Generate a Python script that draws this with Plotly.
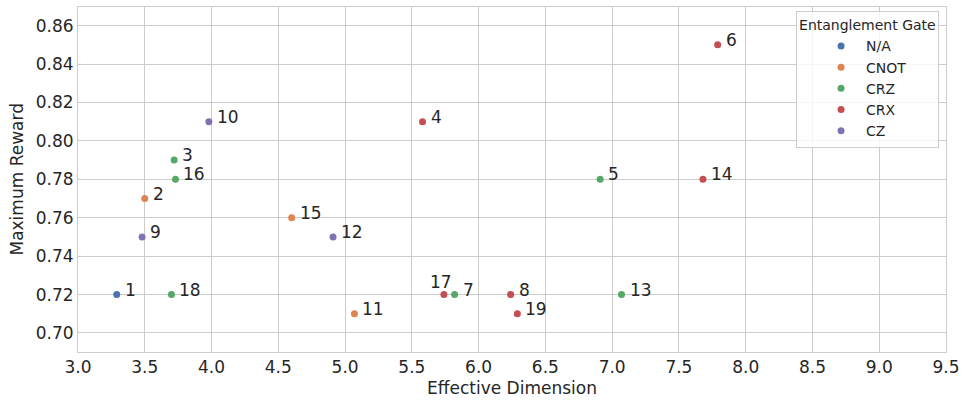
import plotly.graph_objects as go

gates = ["N/A", "CNOT", "CRZ", "CRX", "CZ"]
colors = ["#4C72B0", "#DD8452", "#55A868", "#C44E52", "#8172B3"]

labels = ["1", "2", "3", "4", "5", "6", "7", "8", "9", "10",
          "11", "12", "13", "14", "15", "16", "17", "18", "19"]
eff_dim = [3.29, 3.50, 3.72, 5.58, 6.91, 7.79, 5.82, 6.24, 3.48, 3.98,
           5.07, 4.91, 7.07, 7.68, 4.60, 3.73, 5.74, 3.70, 6.29]
max_reward = [0.72, 0.77, 0.79, 0.81, 0.78, 0.85, 0.72, 0.72, 0.75, 0.81,
              0.71, 0.75, 0.72, 0.78, 0.76, 0.78, 0.72, 0.72, 0.71]
gate_of = ["N/A", "CNOT", "CRZ", "CRX", "CRZ", "CRX", "CRZ", "CRX", "CZ", "CZ",
           "CNOT", "CZ", "CRZ", "CRX", "CNOT", "CRZ", "CRX", "CRZ", "CRX"]

x_title = "Effective Dimension"
y_title = "Maximum Reward"

FONT = "DejaVu Sans"
TXT = "#262626"
GRID = "#cccccc"

fig = go.Figure()
for g, c in zip(gates, colors):
    xs = [x for x, gg in zip(eff_dim, gate_of) if gg == g]
    ys = [y for y, gg in zip(max_reward, gate_of) if gg == g]
    fig.add_trace(go.Scatter(x=xs, y=ys, mode="markers", name=g,
                             marker=dict(color=c, size=7, line=dict(width=0))))

for lab, x, y in zip(labels, eff_dim, max_reward):
    if lab == "17":
        fig.add_annotation(x=x, y=y, text=lab, showarrow=False, xanchor="right",
                           yanchor="middle", xshift=10, yshift=13,
                           font=dict(family=FONT, size=17, color=TXT))
    else:
        fig.add_annotation(x=x, y=y, text=lab, showarrow=False, xanchor="left",
                           yanchor="middle", xshift=6, yshift=5,
                           font=dict(family=FONT, size=17, color=TXT))

# axis titles
fig.add_annotation(xref="paper", yref="paper", x=0.5, y=-0.104, text=x_title,
                   showarrow=False, xanchor="center", yanchor="middle",
                   font=dict(family=FONT, size=17, color=TXT))
fig.add_annotation(xref="paper", yref="paper", x=-0.0714, y=0.5, text=y_title,
                   showarrow=False, xanchor="center", yanchor="middle", textangle=-90,
                   font=dict(family=FONT, size=17, color=TXT))

fig.update_layout(
    width=963, height=403,
    margin=dict(l=78, r=17, t=7, b=51),
    paper_bgcolor="white", plot_bgcolor="white",
    font=dict(family=FONT, color=TXT),
    showlegend=True,
    legend=dict(
        title=dict(text="Entanglement Gate", font=dict(family=FONT, size=14, color=TXT)),
        font=dict(family=FONT, size=14, color=TXT),
        x=0.992, y=0.988, xanchor="right", yanchor="top",
        bgcolor="rgba(255,255,255,0.8)", bordercolor="#cccccc", borderwidth=1,
        tracegroupgap=0, indentation=19, itemwidth=40,
    ),
    xaxis=dict(
        range=[3.0, 9.5], dtick=0.5, tick0=3.0, tickformat=".1f",
        showgrid=True, gridcolor=GRID, gridwidth=1,
        showline=True, linecolor=GRID, linewidth=1, mirror=True,
        zeroline=False, ticks="", automargin=False, ticklabeloverflow="allow",
        tickfont=dict(family=FONT, size=17, color=TXT),
    ),
    yaxis=dict(
        range=[0.6901, 0.8697], dtick=0.02, tick0=0.70, tickformat=".2f",
        showgrid=True, gridcolor=GRID, gridwidth=1,
        showline=True, linecolor=GRID, linewidth=1, mirror=True,
        zeroline=False, ticks="", automargin=False, ticklabeloverflow="allow",
        tickfont=dict(family=FONT, size=17, color=TXT),
    ),
)

fig.write_html("out.html", config={"displayModeBar": False},
               post_script="document.body.style.margin='0px';")
